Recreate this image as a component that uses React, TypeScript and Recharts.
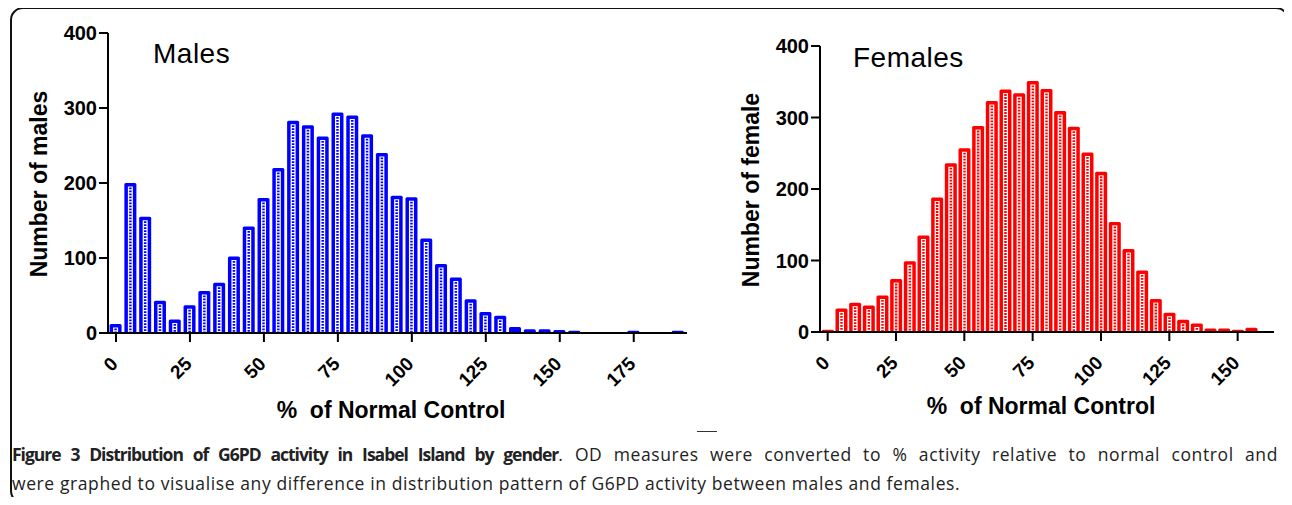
import React from "react";
import { BarChart, Bar, XAxis, YAxis } from "recharts";

// bin centres (% of normal control) and counts
const maleBins = [
  0, 5, 10, 15, 20, 25, 30, 35, 40, 45, 50, 55, 60, 65, 70, 75, 80, 85, 90, 95,
  100, 105, 110, 115, 120, 125, 130, 135, 140, 145, 150, 155, 160, 165, 170, 175,
  180, 185, 190,
];
const maleCounts = [
  12, 200, 155, 43, 18, 37, 56, 67, 102, 142, 180, 220, 283, 277, 262, 294, 290,
  265, 240, 183, 181, 126, 92, 74, 45, 28, 23, 8, 5, 5, 4, 3, 0, 0, 0, 3, 0, 0, 3,
];

const femaleBins = [
  0, 5, 10, 15, 20, 25, 30, 35, 40, 45, 50, 55, 60, 65, 70, 75, 80, 85, 90, 95,
  100, 105, 110, 115, 120, 125, 130, 135, 140, 145, 150, 155,
];
const femaleCounts = [
  3, 33, 41, 37, 51, 74, 99, 135, 188, 236, 257, 288, 323, 339, 334, 351, 340,
  309, 287, 251, 224, 154, 116, 86, 46, 27, 17, 12, 5, 5, 3, 6,
];

const maleTicks = [0, 25, 50, 75, 100, 125, 150, 175];
const femaleTicks = [0, 25, 50, 75, 100, 125, 150];
const countTicks = [0, 100, 200, 300, 400];

const maleData = maleBins.map((bin, i) => ({ bin, count: maleCounts[i] }));
const femaleData = femaleBins.map((bin, i) => ({ bin, count: femaleCounts[i] }));

const FONT = "'Liberation Sans', Arial, Helvetica, sans-serif";

// GraphPad style bar: solid colour with a white dotted column down the middle
function dottedBar(color: string) {
  return (props: any) => {
    const { x, y, width, height } = props;
    if (!height || height <= 0) return <g />;
    const cx = x + width / 2;
    const inset = 3.5;
    const showInner = height > 6;
    return (
      <g>
        <rect x={x} y={y} width={width} height={height} rx={1.5} fill={color} />
        {showInner && (
          <rect
            x={x + inset}
            y={y + inset}
            width={width - 2 * inset}
            height={height - inset}
            fill="#fff"
          />
        )}
        {showInner && (
          <line
            x1={cx}
            x2={cx}
            y1={y + inset + 1}
            y2={y + height}
            stroke={color}
            strokeWidth={2.5}
            strokeDasharray="1.8 1.2"
          />
        )}
      </g>
    );
  };
}

const RotatedTick = (props: any) => {
  const { x, y, payload } = props;
  const px = x + 3;
  const py = y + 21;
  return (
    <text
      x={px}
      y={py}
      transform={`rotate(-45 ${px} ${py})`}
      textAnchor="end"
      fontSize={19}
      fontWeight="bold"
      fontFamily={FONT}
      fill="#000"
    >
      {payload.value}
    </text>
  );
};

const yTickStyle = { fontSize: 20, fontWeight: "bold", fill: "#000", fontFamily: FONT };
const axisLine = { stroke: "#000", strokeWidth: 2 };
const tickLine = { stroke: "#000", strokeWidth: 2 };

const boldLabel: React.CSSProperties = {
  position: "absolute",
  fontFamily: FONT,
  fontWeight: "bold",
  fontSize: 23,
  whiteSpace: "pre",
  lineHeight: 1,
  color: "#000",
};

const titleStyle: React.CSSProperties = {
  position: "absolute",
  fontFamily: FONT,
  fontSize: 28,
  letterSpacing: 0.5,
  lineHeight: 1,
  whiteSpace: "nowrap",
  color: "#000",
};

const captionLine: React.CSSProperties = {
  position: "absolute",
  left: 12,
  width: 1266,
  fontFamily: "'Open Sans', 'Noto Sans', sans-serif",
  fontSize: 17.5,
  letterSpacing: 0.6,
  lineHeight: "24px",
  whiteSpace: "nowrap",
  color: "#222",
};

export default function App() {
  return (
    <div
      style={{
        position: "relative",
        margin: -8,
        width: 1292,
        height: 505,
        overflow: "hidden",
        background: "#fff",
      }}
    >
      {/* frame */}
      <div
        style={{
          position: "absolute",
          left: 10,
          top: 7,
          width: 1279,
          height: 497,
          border: "2px solid #111",
          borderRadius: 13,
          boxSizing: "border-box",
        }}
      />

      {/* MALES */}
      <div style={{ position: "absolute", left: 0, top: 0 }}>
        <BarChart
          width={700}
          height={440}
          data={maleData}
          margin={{ top: 33, right: 13, left: 0, bottom: 47 }}
        >
          <XAxis
            dataKey="bin"
            type="number"
            domain={[-2.7, 193]}
            allowDataOverflow
            ticks={maleTicks}
            interval={0}
            height={60}
            axisLine={axisLine}
            tickLine={tickLine}
            tickSize={9}
            tickMargin={2}
            tick={<RotatedTick />}
          />
          <YAxis
            type="number"
            domain={[0, 400]}
            ticks={countTicks}
            width={108}
            axisLine={axisLine}
            tickLine={tickLine}
            tickSize={9}
            tickMargin={2}
            tick={yTickStyle}
          />
          <Bar
            dataKey="count"
            barSize={12}
            fill="#0000ff"
            shape={dottedBar("#0000ff")}
            isAnimationActive={false}
          />
        </BarChart>
      </div>
      <div style={{ ...titleStyle, left: 153, top: 40 }}>Males</div>
      <div
        style={{
          ...boldLabel,
          left: 39,
          top: 184,
          transform: "translate(-50%, -50%) rotate(-90deg)",
        }}
      >
        Number of males
      </div>
      <div
        style={{ ...boldLabel, left: 391, top: 410, transform: "translate(-50%, -50%)" }}
      >
        {"%  of Normal Control"}
      </div>

      {/* FEMALES */}
      <div style={{ position: "absolute", left: 700, top: 0 }}>
        <BarChart
          width={592}
          height={440}
          data={femaleData}
          margin={{ top: 46, right: 18, left: 0, bottom: 48 }}
        >
          <XAxis
            dataKey="bin"
            type="number"
            domain={[-2.8, 163.3]}
            allowDataOverflow
            ticks={femaleTicks}
            interval={0}
            height={60}
            axisLine={axisLine}
            tickLine={tickLine}
            tickSize={9}
            tickMargin={2}
            tick={<RotatedTick />}
          />
          <YAxis
            type="number"
            domain={[0, 400]}
            ticks={countTicks}
            width={120}
            axisLine={axisLine}
            tickLine={tickLine}
            tickSize={9}
            tickMargin={2}
            tick={yTickStyle}
          />
          <Bar
            dataKey="count"
            barSize={12}
            fill="#ff0000"
            shape={dottedBar("#ff0000")}
            isAnimationActive={false}
          />
        </BarChart>
      </div>
      <div style={{ ...titleStyle, left: 853, top: 44 }}>Females</div>
      <div
        style={{
          ...boldLabel,
          left: 751,
          top: 190,
          transform: "translate(-50%, -50%) rotate(-90deg)",
        }}
      >
        Number of female
      </div>
      <div
        style={{ ...boldLabel, left: 1041, top: 406, transform: "translate(-50%, -50%)" }}
      >
        {"%  of Normal Control"}
      </div>

      {/* small rule */}
      <div
        style={{
          position: "absolute",
          left: 697,
          top: 431,
          width: 20,
          height: 1,
          background: "#333",
        }}
      />

      {/* caption */}
      <div style={{ ...captionLine, top: 442, textAlign: "justify", textAlignLast: "justify" }}>
        <b style={{ letterSpacing: -1 }}>
          Figure 3 Distribution of G6PD activity in Isabel Island by gender
        </b>
        . OD measures were converted to % activity relative to normal control and
      </div>
      <div style={{ ...captionLine, top: 471 }}>
        were graphed to visualise any difference in distribution pattern of G6PD
        activity between males and females.
      </div>
    </div>
  );
}
